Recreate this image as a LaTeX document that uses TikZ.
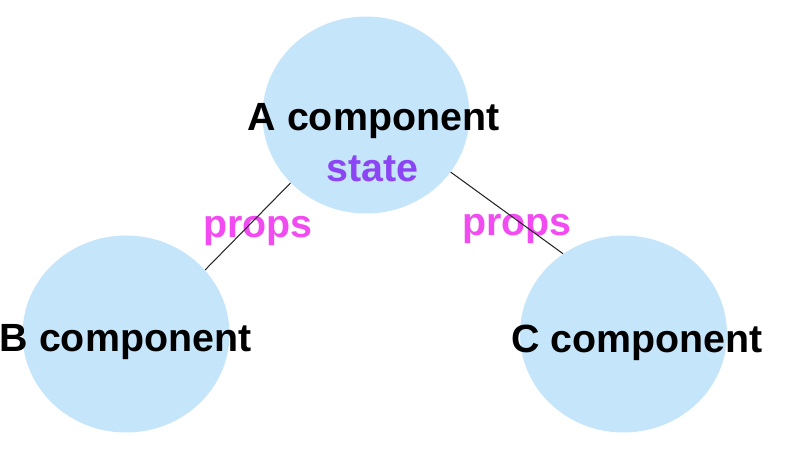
\documentclass[tikz,border=0pt]{standalone}
\usepackage{fontspec}
\setmainfont{Liberation Sans}
\usetikzlibrary{shapes.geometric}
\definecolor{korkek}{HTML}{C5E5FB}
\definecolor{statelila}{HTML}{8B45F5}
\definecolor{propsrozsa}{HTML}{F24BF2}
\tikzset{
  komp/.style={ellipse, fill=korkek, minimum width=4.14cm, minimum height=3.94cm, inner sep=0pt},
  felirat/.style={anchor=base, font=\fontsize{22.4}{26}\selectfont\bfseries, inner sep=0pt}
}
\begin{document}
\begin{tikzpicture}
    \useasboundingbox (0,0) rectangle (15.72,9);

    % Körök
    \node[komp] (A) at (7.32,6.70) {};
    \node[komp] (B) at (2.52,2.32) {};
    \node[komp] (C) at (12.47,2.32) {};

    % Feliratok
    \node[felirat] (Atext) at (7.47,6.38) {A component};
    \node[felirat, text=statelila] (state) at (7.45,5.36) {state};
    \node[felirat, text=propsrozsa] (propsB) at (5.16,4.24) {props};
    \node[felirat, text=propsrozsa] (propsC) at (10.34,4.28) {props};
    \node[felirat] (Btext) at (2.51,1.96) {B component};
    \node[felirat] (Ctext) at (12.74,1.94) {C component};

    % Vonalak
    \draw[line width=0.6pt, black!85] (A.222) -- (B.39);
    \draw[line width=0.6pt, black!85] (A.326) -- (C.127);
\end{tikzpicture}
\end{document}
